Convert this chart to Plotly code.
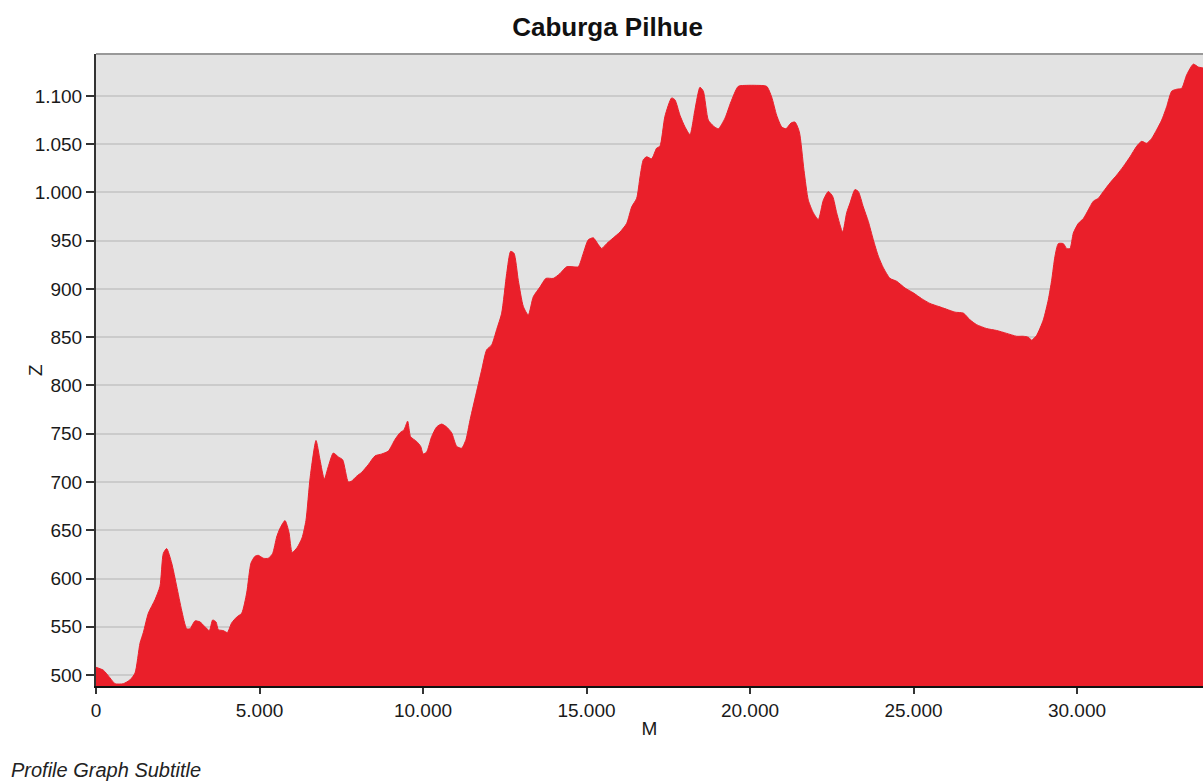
import plotly.graph_objects as go

title_text = "Caburga Pilhue"
subtitle_text = "Profile Graph Subtitle"
x_label = "M"
y_label = "Z"

distance_m = [0, 224, 428, 581, 835, 1040, 1193, 1346, 1447, 1600, 1804, 1957, 2059, 2161, 2314, 2467,
              2620, 2773, 2875, 3027, 3180, 3333, 3466, 3568, 3670, 3741, 3894, 4016, 4149, 4302, 4455,
              4608, 4740, 4862, 4964, 5117, 5270, 5402, 5525, 5627, 5780, 5900, 6000, 6150, 6300, 6420,
              6550, 6728, 6850, 6982, 7104, 7257, 7410, 7543, 7716, 7818, 7971, 8124, 8328, 8531, 8735,
              8939, 9143, 9296, 9418, 9530, 9621, 9805, 9927, 10009, 10111, 10264, 10417, 10570, 10723,
              10876, 11029, 11182, 11314, 11437, 11794, 11947, 12100, 12253, 12406, 12559, 12681, 12783,
              12914, 13067, 13220, 13373, 13577, 13761, 13985, 14189, 14393, 14597, 14749, 14902, 15055,
              15208, 15361, 15463, 15616, 15820, 16024, 16229, 16381, 16534, 16636, 16738, 16840, 16993,
              17146, 17246, 17399, 17603, 17705, 17858, 18011, 18164, 18317, 18470, 18572, 18725, 18878,
              19031, 19235, 19418, 19642, 19897, 20203, 20509, 20662, 20815, 20968, 21100, 21253, 21375,
              21507, 21651, 21783, 21936, 22089, 22242, 22395, 22527, 22650, 22833, 22956, 23058, 23210,
              23312, 23465, 23618, 23771, 23924, 24077, 24281, 24485, 24740, 24994, 25249, 25504, 25759,
              26014, 26269, 26524, 26728, 26932, 27237, 27543, 27849, 28155, 28358, 28511, 28613, 28766,
              28970, 29123, 29225, 29327, 29429, 29582, 29684, 29786, 29888, 30041, 30194, 30347, 30500,
              30653, 30806, 31010, 31214, 31418, 31622, 31826, 31978, 32131, 32284, 32437, 32590, 32743,
              32896, 33049, 33202, 33355, 33557, 33710, 33853]

elevation_m = [508, 505, 497, 491, 491, 495, 502, 533, 544, 564, 578, 592, 626, 631, 616, 592,
               567, 548, 548, 556, 555, 550, 546, 557, 555, 547, 546, 544, 554, 560, 564,
               585, 616, 623, 624, 621, 621, 626, 643, 652, 660, 648, 627, 632, 642, 660,
               705, 743, 723, 703, 716, 730, 726, 723, 700, 701, 706, 710, 718, 727, 729,
               732, 744, 751, 754, 763, 747, 742, 737, 729, 731, 747, 757, 760, 757,
               751, 737, 735, 744, 764, 816, 837, 842, 858, 875, 916, 939, 937,
               909, 882, 873, 892, 902, 911, 911, 916, 923, 923, 923, 937, 951,
               953, 946, 942, 947, 953, 959, 968, 985, 994, 1016, 1034, 1037, 1035,
               1046, 1048, 1079, 1098, 1096, 1080, 1068, 1060, 1086, 1109, 1105, 1075, 1069,
               1066, 1077, 1094, 1110, 1111, 1111, 1110, 1099, 1080, 1068, 1066, 1072, 1073,
               1063, 1023, 992, 979, 972, 992, 1001, 996, 979, 959, 979, 989, 1003,
               1001, 985, 970, 951, 934, 922, 911, 908, 901, 896, 890, 885, 882,
               879, 876, 875, 868, 863, 859, 857, 854, 851, 851, 850, 847, 852,
               868, 889, 909, 934, 947, 947, 942, 942, 958, 968, 973, 982, 991,
               994, 1001, 1010, 1018, 1027, 1037, 1048, 1053, 1051, 1056, 1065, 1075, 1089,
               1105, 1107, 1108, 1122, 1133, 1130, 1129]

x_ticks = [0, 5000, 10000, 15000, 20000, 25000, 30000]
y_ticks = [500, 550, 600, 650, 700, 750, 800, 850, 900, 950, 1000, 1050, 1100]

FONT = "Liberation Sans, Arial, Helvetica, sans-serif"
RED = "#EA1F2A"

fig = go.Figure()
fig.add_trace(go.Scatter(
    x=distance_m, y=elevation_m, mode="lines", fill="tozeroy",
    line=dict(color=RED, width=1, shape="spline", smoothing=0.6),
    fillcolor=RED, hoverinfo="x+y", showlegend=False,
))

fig.update_layout(
    width=1203, height=781,
    margin=dict(l=96, r=0, t=54, b=95, autoexpand=False),
    paper_bgcolor="white",
    plot_bgcolor="#E3E3E3",
    separators=",.",
    font=dict(family=FONT, size=19, color="#1a1a1a"),
    title=dict(text="<b>" + title_text + "</b>", x=0.505, xanchor="center", y=0.966, yanchor="middle",
               font=dict(family=FONT, size=26, color="#111")),
    xaxis=dict(
        range=[0, 33853], tickvals=x_ticks, tickformat=",d", separatethousands=True,
        showgrid=False, zeroline=False, showline=True, linecolor="#111", linewidth=2,
        ticks="outside", ticklen=6, tickwidth=2, tickcolor="#333",
        title=dict(text=x_label, standoff=2, font=dict(size=19)),
        tickfont=dict(size=19),
    ),
    yaxis=dict(
        range=[488.6, 1143.5], tickvals=y_ticks, tickformat=",d", separatethousands=True,
        showgrid=True, gridcolor="#CBCBCB", gridwidth=1.5, zeroline=False,
        showline=True, linecolor="#333", linewidth=2,
        ticks="outside", ticklen=8, tickwidth=2, tickcolor="#333",
        tickfont=dict(size=19),
    ),
    shapes=[dict(type="line", xref="paper", yref="paper", x0=0, x1=1, y0=1, y1=1,
                 line=dict(color="#999", width=2))],
    annotations=[
        dict(text="<i>" + subtitle_text + "</i>", xref="paper", yref="paper",
             x=-0.0785, y=-0.133, xanchor="left", yanchor="middle", showarrow=False,
             font=dict(family=FONT, size=20, color="#222")),
        dict(text=y_label, xref="paper", yref="paper", x=-0.0551, y=0.5,
             xanchor="center", yanchor="middle", textangle=-90, showarrow=False,
             font=dict(family=FONT, size=19, color="#1a1a1a")),
    ],
)

fig.write_html("out.html", config={"displayModeBar": False},
               post_script="document.body.style.margin='0';document.body.style.overflow='hidden';")
